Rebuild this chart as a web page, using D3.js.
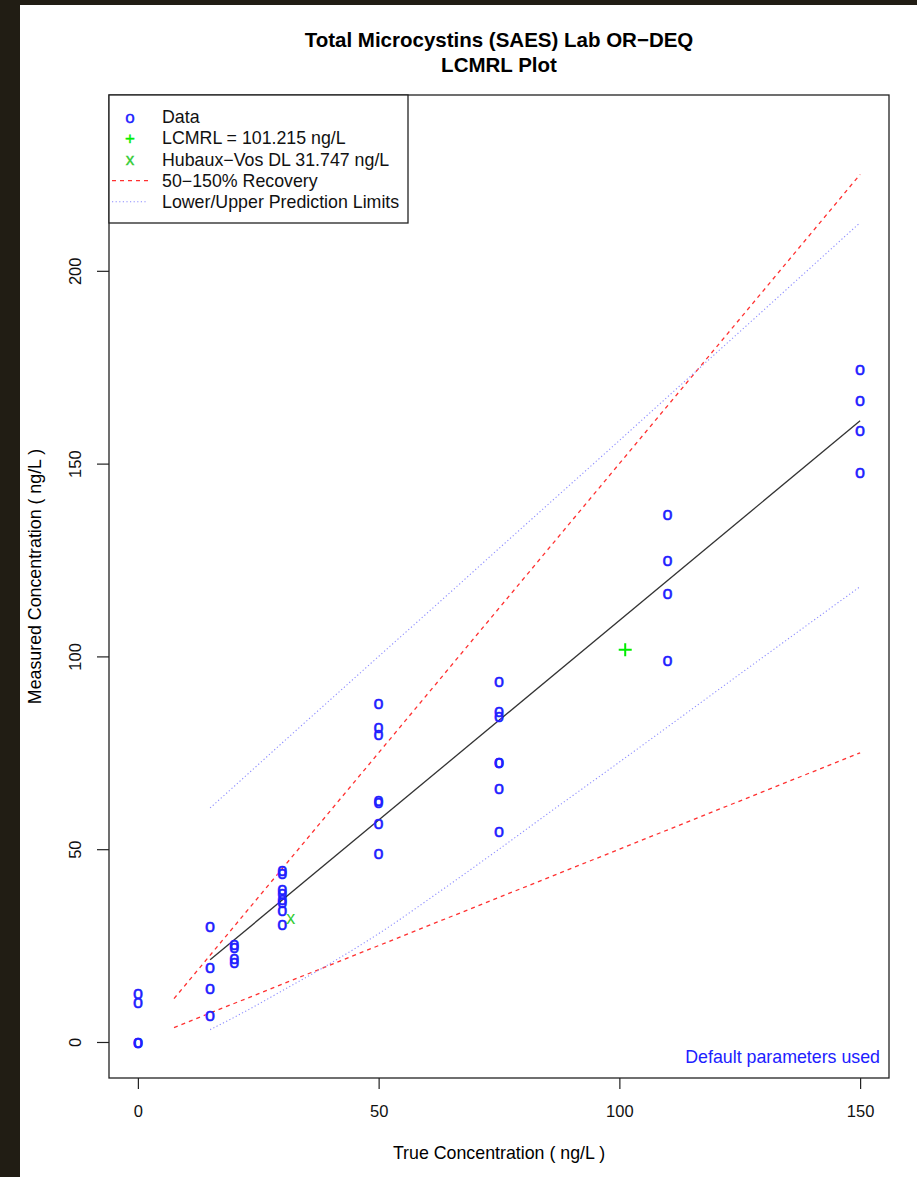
<!DOCTYPE html>
<html>
<head>
<meta charset="utf-8">
<script src="https://cdn.jsdelivr.net/npm/d3@7"></script>
<style>
  body { margin: 0; background: #211d14; }
  text { font-family: "Liberation Sans", Arial, sans-serif; }
</style>
</head>
<body>
<div id="lcmrl"></div>
<script>

// data: true concentration (spike level) and measured concentration per sample
const trueConc = [0, 0, 0, 0,
  15, 15, 15, 15,
  20, 20, 20, 20,
  30, 30, 30, 30, 30, 30, 30, 30,
  50, 50, 50, 50, 50, 50, 50,
  75, 75, 75, 75, 75, 75, 75,
  110, 110, 110, 110,
  150, 150, 150, 150];
const measuredConc = [12.7, 10.4, 0, 0,
  30.1, 19.5, 14.1, 7.0,
  25.3, 24.5, 21.7, 20.7,
  44.6, 43.9, 39.7, 38.7, 37.0, 36.2, 34.2, 30.6,
  87.9, 81.8, 79.9, 62.8, 62.1, 56.9, 49.1,
  93.7, 85.7, 84.4, 72.7, 72.5, 65.8, 54.8,
  137.0, 125.0, 116.3, 99.1,
  174.5, 166.5, 158.8, 147.7];

// regressielijn (begin- en eindpunt)
const fitX = [15, 150];
const fitY = [21.3, 161.1];

// 50-150% recovery lijnen
const recoveryX = [7.5, 150];
const recoveryLow = [3.75, 75];
const recoveryHigh = [11.25, 225];

// prediction limits
const limitX = [15, 20, 30, 40, 50, 63, 75, 85, 100, 110, 125, 150];
const limitLow = [3.2, 6.4, 13.3, 20.4, 28.1, 39.3, 50.0, 59.1, 72.6, 81.7, 95.4, 118.1];
const limitHigh = [60.7, 66.3, 77.6, 88.8, 100.0, 114.5, 128.0, 139.2, 156.0, 167.3, 184.2, 212.5];

// LCMRL en Hubaux-Vos punten
const lcmrlPoint = [101.215, 101.7];
const hvPoint = [31.747, 32.1];

// as-ticks
const xTicks = [0, 50, 100, 150];
const yTicks = [0, 50, 100, 150, 200];

// legenda teksten
const legendLabels = ["Data", "LCMRL = 101.215 ng/L", "Hubaux\u2212Vos DL 31.747 ng/L",
  "50\u2212150% Recovery", "Lower/Upper Prediction Limits"];

const width = 917;
const height = 1177;
const box = {left: 109, right: 889, top: 95, bottom: 1078};
const textSize = 17.8;

var svg = d3.select("#lcmrl")
    .append("svg")
    .attr("width", width)
    .attr("height", height);

// witte achtergrond met donkere rand links en boven
svg.append("rect")
    .attr("x", 20)
    .attr("y", 5)
    .attr("width", width - 20)
    .attr("height", height - 5)
    .attr("fill", "#ffffff");

var xScale = d3.scaleLinear()
    .domain([-6, 156])
    .range([box.left, box.right]);

var yScale = d3.scaleLinear()
    .domain([-9.34, 245.6])
    .range([box.bottom, box.top]);

// titel
svg.append("text")
    .attr("x", (box.left + box.right) / 2)
    .attr("y", 47)
    .attr("text-anchor", "middle")
    .attr("font-size", 20.5)
    .attr("font-weight", "bold")
    .text("Total Microcystins (SAES) Lab OR\u2212DEQ");

svg.append("text")
    .attr("x", (box.left + box.right) / 2)
    .attr("y", 72)
    .attr("text-anchor", "middle")
    .attr("font-size", 20.5)
    .attr("font-weight", "bold")
    .text("LCMRL Plot");

// x-as
var xAxis = svg.append("g")
    .attr("transform", "translate(0," + box.bottom + ")")
    .call(d3.axisBottom(xScale)
      .tickValues(xTicks)
      .tickSize(11)
      .tickPadding(16)
      .tickFormat(d3.format("d")));

// y-as
var yAxis = svg.append("g")
    .attr("transform", "translate(" + box.left + ",0)")
    .call(d3.axisLeft(yScale)
      .tickValues(yTicks)
      .tickSize(12)
      .tickFormat(d3.format("d")));

xAxis.select(".domain").remove();
yAxis.select(".domain").remove();

[xAxis, yAxis].forEach(function(ax) {
  ax.selectAll("line").attr("stroke", "#222").attr("stroke-width", 1.2);
  ax.selectAll("text")
      .attr("fill", "#111")
      .attr("font-size", 16.5)
      .attr("font-family", "Liberation Sans, Arial, sans-serif");
});

// y labels gedraaid zoals in R
yAxis.selectAll("text")
    .attr("x", null)
    .attr("dy", null)
    .attr("text-anchor", "middle")
    .attr("transform", "translate(-28,0) rotate(-90)")
    .attr("y", 0);

// as titels
svg.append("text")
    .attr("x", (box.left + box.right) / 2)
    .attr("y", 1159)
    .attr("text-anchor", "middle")
    .attr("font-size", textSize)
    .text("True Concentration  ( ng/L )");

svg.append("text")
    .attr("transform", "translate(41," + ((box.top + box.bottom) / 2 - 10) + ") rotate(-90)")
    .attr("text-anchor", "middle")
    .attr("font-size", textSize)
    .text("Measured Concentration  ( ng/L )");

var line = d3.line()
    .x(function(d) { return xScale(d[0]); })
    .y(function(d) { return yScale(d[1]); });

// recovery lijnen
[recoveryLow, recoveryHigh].forEach(function(ys) {
  svg.append("path")
      .attr("d", line(recoveryX.map(function(x, i) { return [x, ys[i]]; })))
      .attr("fill", "none")
      .attr("stroke", "#ff3030")
      .attr("stroke-width", 1.3)
      .attr("stroke-dasharray", "4,4");
});

// prediction limits
[limitLow, limitHigh].forEach(function(ys) {
  svg.append("path")
      .attr("d", line.curve(d3.curveMonotoneX)(limitX.map(function(x, i) { return [x, ys[i]]; })))
      .attr("fill", "none")
      .attr("stroke", "#8c8cff")
      .attr("stroke-width", 1.1)
      .attr("stroke-dasharray", "1.2,2.4");
});
line.curve(d3.curveLinear);

// regressielijn
svg.append("path")
    .attr("d", line(fitX.map(function(x, i) { return [x, fitY[i]]; })))
    .attr("fill", "none")
    .attr("stroke", "#333")
    .attr("stroke-width", 1.3);

// datapunten als "o"
svg.append("g")
    .selectAll("text")
    .data(trueConc.map(function(x, i) { return [x, measuredConc[i]]; }))
    .enter()
    .append("text")
    .attr("x", function(d) { return xScale(d[0]); })
    .attr("y", function(d) { return yScale(d[1]); })
    .attr("dy", "0.33em")
    .attr("text-anchor", "middle")
    .attr("font-size", 18)
    .attr("fill", "#2020ff")
    .attr("stroke", "#2020ff")
    .attr("stroke-width", 0.5)
    .text("o");

// LCMRL kruis
var lx = xScale(lcmrlPoint[0]);
var ly = yScale(lcmrlPoint[1]);
svg.append("path")
    .attr("d", "M" + (lx - 6.5) + "," + ly + "H" + (lx + 6.5) + "M" + lx + "," + (ly - 6.5) + "V" + (ly + 6.5))
    .attr("stroke", "#00ee00")
    .attr("stroke-width", 2);

// Hubaux-Vos punt
svg.append("text")
    .attr("x", xScale(hvPoint[0]))
    .attr("y", yScale(hvPoint[1]))
    .attr("dy", "0.33em")
    .attr("text-anchor", "middle")
    .attr("font-size", 18)
    .attr("fill", "#33cc33")
    .text("x");

// kader om de plot
svg.append("rect")
    .attr("x", box.left)
    .attr("y", box.top)
    .attr("width", box.right - box.left)
    .attr("height", box.bottom - box.top)
    .attr("fill", "none")
    .attr("stroke", "#222")
    .attr("stroke-width", 1.3);

// legenda
var legend = svg.append("g");
legend.append("rect")
    .attr("x", box.left)
    .attr("y", box.top)
    .attr("width", 299)
    .attr("height", 128)
    .attr("fill", "#ffffff")
    .attr("stroke", "#222")
    .attr("stroke-width", 1.3);

var rowY = function(i) { return 117 + i * 21.2; };

legendLabels.forEach(function(label, i) {
  legend.append("text")
      .attr("x", 162)
      .attr("y", rowY(i))
      .attr("dy", "0.35em")
      .attr("font-size", textSize)
      .attr("fill", "#111")
      .text(label);
});

var symbols = [["o", "#2020ff"], ["+", "#00ee00"], ["x", "#33cc33"]];
symbols.forEach(function(s, i) {
  legend.append("text")
      .attr("x", 130)
      .attr("y", rowY(i))
      .attr("dy", "0.33em")
      .attr("text-anchor", "middle")
      .attr("font-size", 17)
      .attr("fill", s[1])
      .attr("stroke", s[1])
      .attr("stroke-width", 0.4)
      .text(s[0]);
});

legend.append("line")
    .attr("x1", 112).attr("x2", 148)
    .attr("y1", rowY(3)).attr("y2", rowY(3))
    .attr("stroke", "#ff3030")
    .attr("stroke-width", 1.3)
    .attr("stroke-dasharray", "4,4");

legend.append("line")
    .attr("x1", 112).attr("x2", 148)
    .attr("y1", rowY(4)).attr("y2", rowY(4))
    .attr("stroke", "#8c8cff")
    .attr("stroke-width", 1.1)
    .attr("stroke-dasharray", "1.2,2.4");

// opmerking rechtsonder
svg.append("text")
    .attr("x", 880)
    .attr("y", 1057)
    .attr("dy", "0.35em")
    .attr("text-anchor", "end")
    .attr("font-size", textSize)
    .attr("fill", "#2020ff")
    .text("Default parameters used");

</script>
</body>
</html>
